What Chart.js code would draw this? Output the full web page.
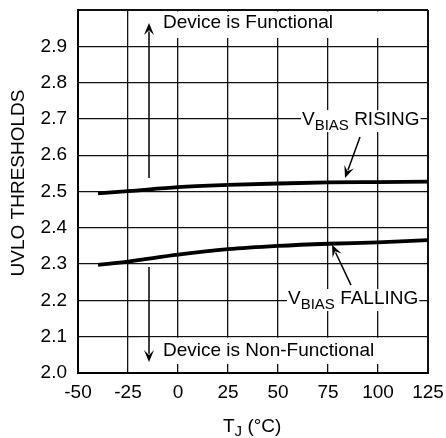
<!DOCTYPE html>
<html>
<head>
<meta charset="utf-8">
<script src="https://cdn.jsdelivr.net/npm/chart.js@4/dist/chart.umd.min.js"></script>
<style>
  html, body { margin: 0; padding: 0; background: #fff; }
  #wrap { width: 446px; height: 438px; }
</style>
</head>
<body>
<div id="wrap"><canvas id="uvlo"></canvas></div>
<script>
// junction temperature (degC) and UVLO thresholds (V)
var tempC = [-40, -25, 0, 25, 50, 75, 100, 125];
var vbiasRising = [2.495, 2.501, 2.512, 2.518, 2.522, 2.525, 2.526, 2.527];
var vbiasFalling = [2.298, 2.307, 2.326, 2.341, 2.350, 2.356, 2.360, 2.366];

var xMin = -50, xMax = 125, xStep = 25;
var yMin = 2.0, yMax = 3.0, yStep = 0.1;

var FONT = '"Liberation Sans", Arial, Helvetica, sans-serif';

function toPoints(xs, ys) {
    return xs.map(function (x, i) { return { x: x, y: ys[i] }; });
}

// arrow from (x0,y0) to tip (x1,y1), pixels
function arrow(ctx, x0, y0, x1, y1) {
    var a = Math.atan2(y1 - y0, x1 - x0);
    var len = 12, half = 5;
    ctx.beginPath();
    ctx.moveTo(x0, y0);
    ctx.lineTo(x1 - Math.cos(a) * len * 0.7, y1 - Math.sin(a) * len * 0.7);
    ctx.lineWidth = 1.5;
    ctx.stroke();
    ctx.beginPath();
    ctx.moveTo(x1, y1);
    ctx.lineTo(x1 - Math.cos(a) * len - Math.sin(a) * half, y1 - Math.sin(a) * len + Math.cos(a) * half);
    ctx.lineTo(x1 - Math.cos(a) * len * 0.6, y1 - Math.sin(a) * len * 0.6);
    ctx.lineTo(x1 - Math.cos(a) * len + Math.sin(a) * half, y1 - Math.sin(a) * len - Math.cos(a) * half);
    ctx.closePath();
    ctx.fill();
}

// V with subscript BIAS followed by a word, white box behind it
function subLabel(ctx, x, y, main, sub, rest) {
    ctx.font = '19px ' + FONT;
    var w1 = ctx.measureText(main).width;
    var w3 = ctx.measureText(' ' + rest).width;
    ctx.font = '15px ' + FONT;
    var w2 = ctx.measureText(sub).width;
    ctx.fillStyle = '#fff';
    ctx.fillRect(x - 1, y - 15, w1 + w2 + w3 + 2, 22);
    ctx.fillStyle = '#000';
    ctx.textAlign = 'left';
    ctx.textBaseline = 'alphabetic';
    ctx.font = '19px ' + FONT;
    ctx.fillText(main, x, y);
    ctx.font = '15px ' + FONT;
    ctx.fillText(sub, x + w1, y + 5);
    ctx.font = '19px ' + FONT;
    ctx.fillText(' ' + rest, x + w1 + w2, y);
}

var decorations = {
    id: 'decorations',
    beforeDatasetsDraw: function (chart) {
        var ctx = chart.ctx, xs = chart.scales.x, ys = chart.scales.y;
        var area = chart.chartArea;
        ctx.save();
        ctx.fillStyle = '#fff';
        // white strips that hold the two "Device is ..." notes
        var bx0 = xs.getPixelForValue(-19), bx1 = area.right - 3;
        ctx.fillRect(bx0, area.top + 1.5, bx1 - bx0, ys.getPixelForValue(2.923) - area.top - 1.5);
        var by0 = ys.getPixelForValue(2.1) + 1;
        ctx.fillRect(bx0, by0, bx1 - bx0, ys.getPixelForValue(2.025) - by0);
        ctx.restore();
    },
    afterDatasetsDraw: function (chart) {
        var ctx = chart.ctx, xs = chart.scales.x, ys = chart.scales.y;
        var area = chart.chartArea;
        ctx.save();
        ctx.fillStyle = '#000';
        ctx.strokeStyle = '#000';

        ctx.font = '19px ' + FONT;
        ctx.textAlign = 'left';
        ctx.textBaseline = 'alphabetic';
        ctx.fillText('Device is Functional', xs.getPixelForValue(-7.5), ys.getPixelForValue(2.950));
        ctx.fillText('Device is Non-Functional', xs.getPixelForValue(-7.5), ys.getPixelForValue(2.0475));

        arrow(ctx, xs.getPixelForValue(-14.5), ys.getPixelForValue(2.537), xs.getPixelForValue(-14.5), ys.getPixelForValue(2.964));
        arrow(ctx, xs.getPixelForValue(-14.5), ys.getPixelForValue(2.292), xs.getPixelForValue(-14.5), ys.getPixelForValue(2.030));

        subLabel(ctx, xs.getPixelForValue(62), ys.getPixelForValue(2.683), 'V', 'BIAS', 'RISING');
        subLabel(ctx, xs.getPixelForValue(55), ys.getPixelForValue(2.190), 'V', 'BIAS', 'FALLING');

        arrow(ctx, xs.getPixelForValue(91), ys.getPixelForValue(2.650), xs.getPixelForValue(83.5), ys.getPixelForValue(2.537));
        arrow(ctx, xs.getPixelForValue(86.5), ys.getPixelForValue(2.242), xs.getPixelForValue(77), ys.getPixelForValue(2.353));

        // axis titles
        ctx.textAlign = 'left';
        ctx.font = '19px ' + FONT;
        var tx = (area.left + area.right) / 2 - 30, ty = 432;
        ctx.fillText('T', tx, ty);
        var wT = ctx.measureText('T').width;
        ctx.font = '15px ' + FONT;
        ctx.fillText('J', tx + wT, ty + 4);
        var wJ = ctx.measureText('J').width;
        ctx.font = '19px ' + FONT;
        ctx.fillText(' (\u00B0C)', tx + wT + wJ, ty);

        ctx.translate(19, 183);
        ctx.rotate(-Math.PI / 2);
        ctx.textAlign = 'center';
        ctx.textBaseline = 'middle';
        ctx.fillText('UVLO THRESHOLDS', 0, 0);
        ctx.restore();
    }
};

window.addEventListener('load', function () {
    var edgeWidth = function (scaleMin, scaleMax) {
        return function (c) {
            var v = c.tick ? c.tick.value : null;
            return (Math.abs(v - scaleMin) < 1e-6 || Math.abs(v - scaleMax) < 1e-6) ? 2 : 1.3;
        };
    };
    new Chart(document.getElementById('uvlo').getContext('2d'), {
        type: 'line',
        data: {
            datasets: [{
                label: 'VBIAS RISING',
                data: toPoints(tempC, vbiasRising),
                borderColor: '#000',
                borderWidth: 3.8,
                pointRadius: 0,
                cubicInterpolationMode: 'monotone',
                fill: false
            }, {
                label: 'VBIAS FALLING',
                data: toPoints(tempC, vbiasFalling),
                borderColor: '#000',
                borderWidth: 3.8,
                pointRadius: 0,
                cubicInterpolationMode: 'monotone',
                fill: false
            }]
        },
        options: {
            responsive: true,
            maintainAspectRatio: false,
            animation: false,
            layout: { padding: { left: 0, right: 18, top: 10, bottom: 0 } },
            plugins: {
                legend: { display: false },
                tooltip: { enabled: false }
            },
            scales: {
                x: {
                    type: 'linear',
                    min: xMin,
                    max: xMax,
                    afterFit: function (s) {
                        s.height = 65;
                        s.paddingLeft = 0;
                        s.paddingRight = 0;
                    },
                    ticks: {
                        stepSize: xStep,
                        padding: 8,
                        color: '#000',
                        font: { family: FONT, size: 19 },
                        maxRotation: 0
                    },
                    grid: { color: '#111', lineWidth: edgeWidth(xMin, xMax), drawTicks: false },
                    border: { color: '#000', width: 2 }
                },
                y: {
                    min: yMin,
                    max: yMax,
                    afterFit: function (s) {
                        s.width = 78;
                        s.paddingTop = 0;
                        s.paddingBottom = 0;
                    },
                    ticks: {
                        stepSize: yStep,
                        padding: 11,
                        color: '#000',
                        font: { family: FONT, size: 19 },
                        callback: function (v) { return v > 2.95 ? '' : v.toFixed(1); }
                    },
                    grid: { color: '#111', lineWidth: edgeWidth(yMin, yMax), drawTicks: false },
                    border: { color: '#000', width: 2 }
                }
            }
        },
        plugins: [decorations]
    });
});
</script>
</body>
</html>
